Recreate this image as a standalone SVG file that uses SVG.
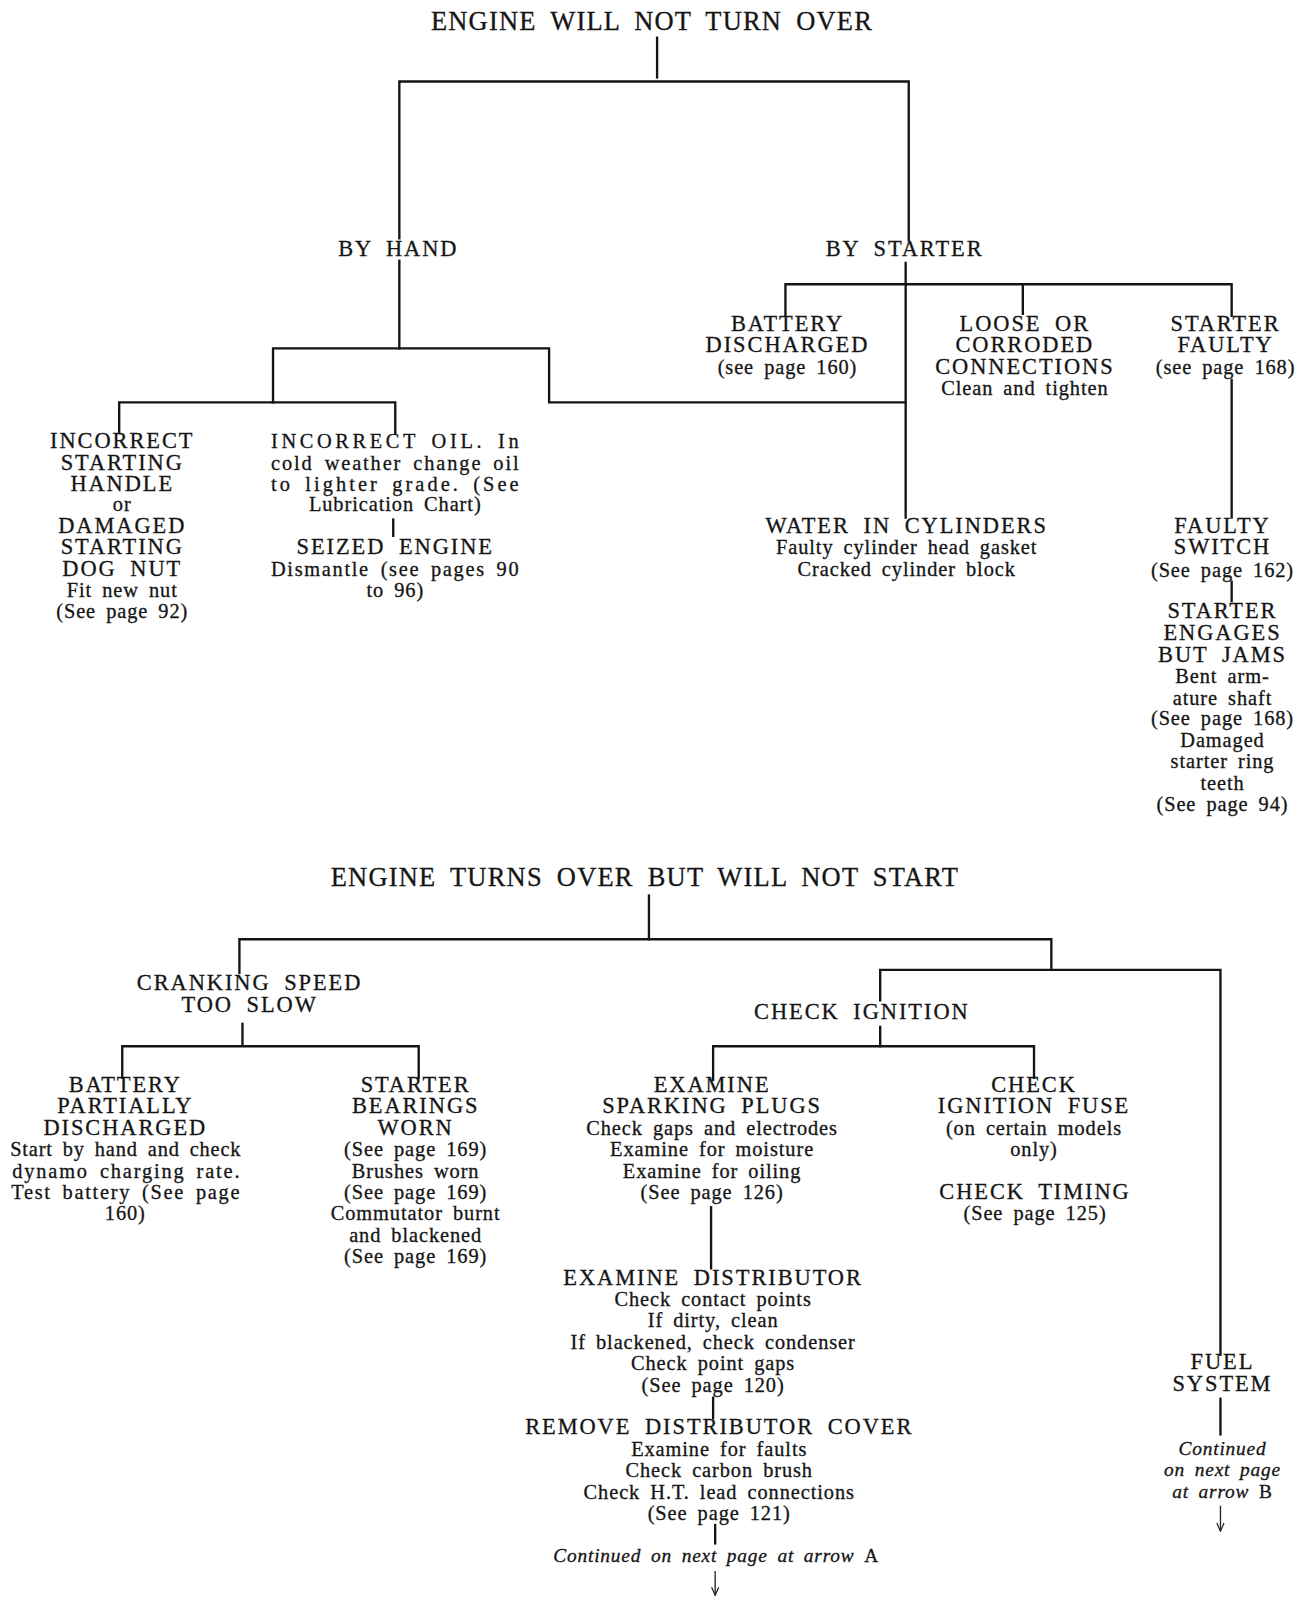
<svg xmlns="http://www.w3.org/2000/svg" width="1305" height="1597" viewBox="0 0 1305 1597">
<defs>
<style>
text{font-family:"Liberation Serif","Times New Roman","DejaVu Serif",serif;fill:#151515;stroke:#151515;stroke-width:0.3px;text-anchor:middle}
.ti{font-size:26px;letter-spacing:1.2px;word-spacing:6px}
.c{font-size:22px;letter-spacing:1.9px;word-spacing:6px}
.l{font-size:20px;letter-spacing:0.9px;word-spacing:4px}
.i{font-size:19px;font-style:italic;letter-spacing:0.8px;word-spacing:4px}
.r{font-style:normal}
.j{text-anchor:start}
.w{fill:none;stroke:#141414;stroke-width:2.3;stroke-linecap:square}
.a{fill:none;stroke:#222;stroke-width:1.3}
</style>
<marker id="arr" viewBox="0 0 10 10" refX="9" refY="5" markerWidth="10" markerHeight="10" markerUnits="userSpaceOnUse" orient="auto">
<path d="M1,1.5 L9,5 L1,8.5" fill="none" stroke="#222" stroke-width="1.2"/>
</marker>
</defs>
<rect width="1305" height="1597" fill="#fff"/>
<g transform="scale(1.01874)" font-family="Liberation Serif, serif">
<g id="connectors">
<path class="w" d="M645,37 V76"/>
<path class="w" d="M392,234 V80 H892 V236"/>
<path class="w" d="M392,256 V342"/>
<path class="w" d="M268,395 V342 H539 V395 H889"/>
<path class="w" d="M117,425 V395 H388 V425"/>
<path class="w" d="M889,258 V508"/>
<path class="w" d="M771,310 V279 H1209 V310"/>
<path class="w" d="M1004,279 V308"/>
<path class="w" d="M1209,373 V508"/>
<path class="w" d="M1209,571 V590"/>
<path class="w" d="M386,510 V526"/>
<path class="w" d="M637,879 V922"/>
<path class="w" d="M235,955 V922 H1032 V952"/>
<path class="w" d="M864,982 V952 H1198 V1330"/>
<path class="w" d="M238,1005 V1025"/>
<path class="w" d="M120,1058 V1027 H411 V1058"/>
<path class="w" d="M864,1008 V1027"/>
<path class="w" d="M700,1060 V1027 H1015 V1058"/>
<path class="w" d="M698,1185 V1245"/>
<path class="w" d="M700,1372 V1392"/>
<path class="w" d="M702,1497 V1515"/>
<path class="a" d="M702,1542 V1566" marker-end="url(#arr)"/>
<path class="w" d="M1198,1373 V1408"/>
<path class="a" d="M1198,1478 V1503" marker-end="url(#arr)"/>
</g>

<g id="t1"><text class="ti" x="640" y="29">ENGINE WILL NOT TURN OVER</text></g>
<g id="byhand"><text class="c" x="391" y="251">BY HAND</text></g>
<g id="bystarter"><text class="c" x="888" y="251">BY STARTER</text></g>

<g id="battery"><text x="773" y="325"><tspan class="c" x="773" y="325">BATTERY</tspan><tspan class="c" x="773" y="346">DISCHARGED</tspan><tspan class="l" x="773" y="367">(see page 160)</tspan></text></g>

<g id="loose"><text x="1006" y="325"><tspan class="c" x="1006" y="325">LOOSE OR</tspan><tspan class="c" x="1006" y="346">CORRODED</tspan><tspan class="c" x="1006" y="367">CONNECTIONS</tspan><tspan class="l" x="1006" y="388">Clean and tighten</tspan></text></g>

<g id="starterfaulty"><text x="1203" y="325"><tspan class="c" x="1203" y="325">STARTER</tspan><tspan class="c" x="1203" y="346">FAULTY</tspan><tspan class="l" x="1203" y="367">(see page 168)</tspan></text></g>

<g id="faultyswitch"><text x="1200" y="523"><tspan class="c" x="1200" y="523">FAULTY</tspan><tspan class="c" x="1200" y="544">SWITCH</tspan><tspan class="l" x="1200" y="566">(See page 162)</tspan></text></g>

<g id="jams"><text x="1200" y="607"><tspan class="c" x="1200" y="607">STARTER</tspan><tspan class="c" x="1200" y="628">ENGAGES</tspan><tspan class="c" x="1200" y="650">BUT  JAMS</tspan><tspan class="l" x="1200" y="670">Bent arm-</tspan><tspan class="l" x="1200" y="692">ature shaft</tspan><tspan class="l" x="1200" y="712">(See page 168)</tspan><tspan class="l" x="1200" y="733">Damaged</tspan><tspan class="l" x="1200" y="754">starter ring</tspan><tspan class="l" x="1200" y="775">teeth</tspan><tspan class="l" x="1200" y="796">(See page 94)</tspan></text></g>

<g id="handle"><text x="120" y="440"><tspan class="c" x="120" y="440">INCORRECT</tspan><tspan class="c" x="120" y="461">STARTING</tspan><tspan class="c" x="120" y="482">HANDLE</tspan><tspan class="l" x="120" y="502">or</tspan><tspan class="c" x="120" y="523">DAMAGED</tspan><tspan class="c" x="120" y="544">STARTING</tspan><tspan class="c" x="120" y="565">DOG NUT</tspan><tspan class="l" x="120" y="586">Fit new nut</tspan><tspan class="l" x="120" y="607">(See page 92)</tspan></text></g>

<g id="oil"><text class="l j" x="266" y="440" textLength="244" lengthAdjust="spacing">INCORRECT OIL.  In</text><text class="l j" x="266" y="461" textLength="244" lengthAdjust="spacing">cold weather change oil</text><text class="l j" x="266" y="482" textLength="244" lengthAdjust="spacing">to lighter grade.  (See</text><text class="l" x="388" y="502">Lubrication Chart)</text></g>

<g id="seized"><text class="c" x="388" y="544">SEIZED ENGINE</text><text class="l j" x="266" y="565" textLength="244" lengthAdjust="spacing">Dismantle (see pages 90</text><text class="l" x="388" y="586">to 96)</text></g>

<g id="water"><text x="890" y="523"><tspan class="c" x="890" y="523">WATER IN CYLINDERS</tspan><tspan class="l" x="890" y="544">Faulty cylinder head gasket</tspan><tspan class="l" x="890" y="565">Cracked cylinder block</tspan></text></g>

<g id="t2"><text class="ti" x="633" y="870">ENGINE TURNS OVER BUT WILL NOT START</text></g>

<g id="cranking"><text x="245" y="972"><tspan class="c" x="245" y="972">CRANKING SPEED</tspan><tspan class="c" x="245" y="993">TOO SLOW</tspan></text></g>

<g id="ignition"><text class="c" x="846" y="1000">CHECK IGNITION</text></g>

<g id="battpart"><text x="123" y="1072"><tspan class="c" x="123" y="1072">BATTERY</tspan><tspan class="c" x="123" y="1093">PARTIALLY</tspan><tspan class="c" x="123" y="1114">DISCHARGED</tspan></text><text class="l j" x="10" y="1135" textLength="227" lengthAdjust="spacing">Start by hand and check</text><text class="l j" x="12" y="1156" textLength="224" lengthAdjust="spacing">dynamo charging rate.</text><text class="l j" x="11" y="1177" textLength="225" lengthAdjust="spacing">Test battery (See page</text><text class="l" x="123" y="1198">160)</text></g>

<g id="bearings"><text x="408" y="1072"><tspan class="c" x="408" y="1072">STARTER</tspan><tspan class="c" x="408" y="1093">BEARINGS</tspan><tspan class="c" x="408" y="1114">WORN</tspan><tspan class="l" x="408" y="1135">(See page 169)</tspan><tspan class="l" x="408" y="1156">Brushes worn</tspan><tspan class="l" x="408" y="1177">(See page 169)</tspan><tspan class="l" x="408" y="1198">Commutator burnt</tspan><tspan class="l" x="408" y="1219">and blackened</tspan><tspan class="l" x="408" y="1240">(See page 169)</tspan></text></g>

<g id="plugs"><text x="699" y="1072"><tspan class="c" x="699" y="1072">EXAMINE</tspan><tspan class="c" x="699" y="1093">SPARKING PLUGS</tspan><tspan class="l" x="699" y="1114">Check gaps and electrodes</tspan><tspan class="l" x="699" y="1135">Examine for moisture</tspan><tspan class="l" x="699" y="1156">Examine for oiling</tspan><tspan class="l" x="699" y="1177">(See page 126)</tspan></text></g>

<g id="fuse"><text x="1015" y="1072"><tspan class="c" x="1015" y="1072">CHECK</tspan><tspan class="c" x="1015" y="1093">IGNITION FUSE</tspan><tspan class="l" x="1015" y="1114">(on certain models</tspan><tspan class="l" x="1015" y="1135">only)</tspan></text></g>

<g id="timing"><text x="1016" y="1177"><tspan class="c" x="1016" y="1177">CHECK TIMING</tspan><tspan class="l" x="1016" y="1198">(See page 125)</tspan></text></g>

<g id="distributor"><text x="700" y="1261"><tspan class="c" x="700" y="1261">EXAMINE DISTRIBUTOR</tspan><tspan class="l" x="700" y="1282">Check contact points</tspan><tspan class="l" x="700" y="1303">If dirty, clean</tspan><tspan class="l" x="700" y="1324">If blackened, check condenser</tspan><tspan class="l" x="700" y="1345">Check point gaps</tspan><tspan class="l" x="700" y="1366">(See page 120)</tspan></text></g>

<g id="cover"><text x="706" y="1408"><tspan class="c" x="706" y="1408">REMOVE DISTRIBUTOR COVER</tspan><tspan class="l" x="706" y="1429">Examine for faults</tspan><tspan class="l" x="706" y="1450">Check carbon brush</tspan><tspan class="l" x="706" y="1471">Check H.T. lead connections</tspan><tspan class="l" x="706" y="1492">(See page 121)</tspan></text></g>

<g id="contA"><text class="i" x="703" y="1533">Continued on next page at arrow <tspan class="r">A</tspan></text></g>

<g id="fuel"><text x="1200" y="1344"><tspan class="c" x="1200" y="1344">FUEL</tspan><tspan class="c" x="1200" y="1365">SYSTEM</tspan></text></g>

<g id="contB"><text class="i" x="1200" y="1428"><tspan x="1200" y="1428">Continued</tspan><tspan x="1200" y="1449">on next page</tspan><tspan x="1200" y="1470">at arrow <tspan class="r">B</tspan></tspan></text></g>
</g>
</svg>
